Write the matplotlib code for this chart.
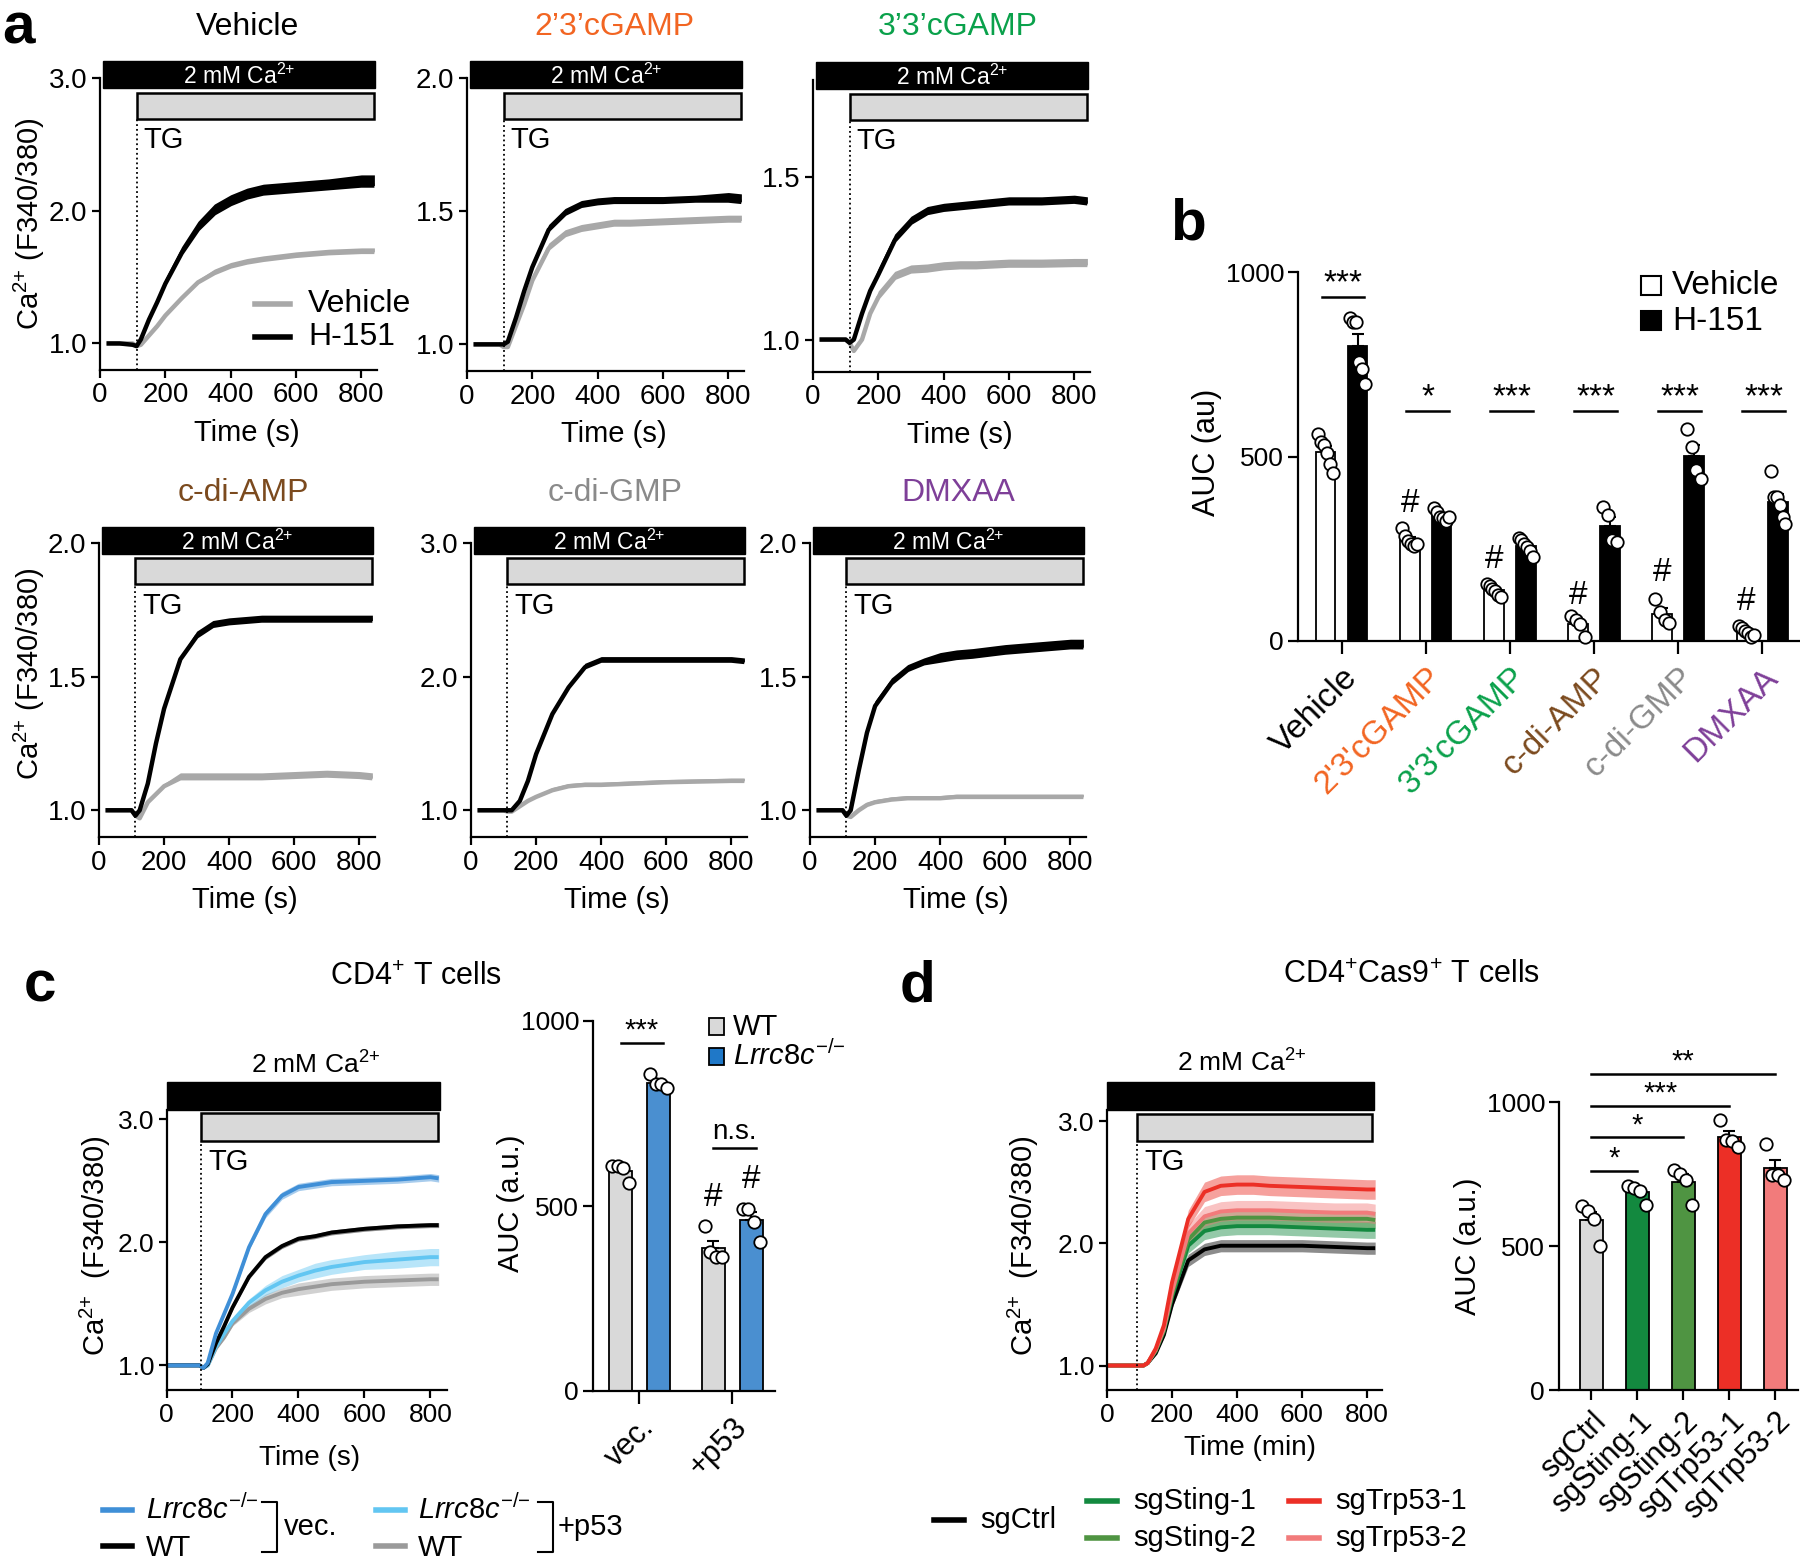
import numpy as np
import matplotlib.pyplot as plt
import matplotlib.transforms as mtransforms
from matplotlib.patches import Rectangle

plt.rcParams['font.family'] = ['Liberation Sans', 'DejaVu Sans']
plt.rcParams['mathtext.fontset'] = 'custom'
plt.rcParams['mathtext.rm'] = 'Liberation Sans'
plt.rcParams['mathtext.it'] = 'Liberation Sans:italic'
plt.rcParams['mathtext.bf'] = 'Liberation Sans:bold'
plt.rcParams['axes.linewidth'] = 1.6

# ---------------- data ----------------
# panel a: Ca2+ traces (F340/380)
t_a = [20, 60, 100, 112, 125, 150, 175, 200, 250, 300, 350, 400, 450, 500, 600, 700, 800, 840]

veh_veh = [1.0, 1.0, 1.0, 0.98, 0.99, 1.06, 1.13, 1.21, 1.34, 1.46, 1.53, 1.58, 1.61, 1.63, 1.66, 1.68, 1.69, 1.69]
veh_veh_se = [0, 0, 0, 0, .01, .01, .01, .02, .02, .02, .03, .03, .03, .03, .03, .03, .03, .03]
veh_h151 = [1.0, 1.0, 0.99, 0.98, 1.03, 1.18, 1.31, 1.45, 1.68, 1.86, 1.98, 2.05, 2.1, 2.13, 2.15, 2.17, 2.19, 2.19]
veh_h151_se = [0, 0, 0, 0, .01, .02, .03, .04, .05, .06, .07, .07, .07, .07, .07, .07, .08, .08]

g23_veh = [1.0, 1.0, 1.0, 0.99, 0.99, 1.07, 1.15, 1.24, 1.36, 1.41, 1.43, 1.44, 1.45, 1.45, 1.455, 1.46, 1.465, 1.465]
g23_veh_se = [0, 0, 0, 0, 0, .01, .01, .02, .02, .02, .02, .02, .02, .02, .02, .02, .02, .02]
g23_h151 = [1.0, 1.0, 1.0, 1.0, 1.01, 1.1, 1.2, 1.29, 1.43, 1.49, 1.52, 1.53, 1.535, 1.535, 1.535, 1.54, 1.54, 1.535]
g23_h151_se = [0, 0, 0, 0, 0, .01, .01, .02, .02, .02, .02, .02, .02, .02, .02, .02, .03, .03]

g33_veh = [1.0, 1.0, 1.0, 0.99, 0.965, 1.0, 1.08, 1.13, 1.19, 1.21, 1.213, 1.22, 1.223, 1.223, 1.228, 1.228, 1.23, 1.23]
g33_veh_se = [0, 0, 0, 0, 0, .01, .01, .02, .02, .02, .02, .02, .02, .02, .02, .02, .02, .02]
g33_h151 = [1.0, 1.0, 1.0, 0.99, 1.0, 1.08, 1.15, 1.2, 1.305, 1.36, 1.39, 1.4, 1.405, 1.41, 1.42, 1.42, 1.425, 1.42]
g33_h151_se = [0, 0, 0, 0, 0, .01, .01, .02, .02, .02, .02, .02, .02, .02, .02, .02, .02, .02]

cda_veh = [1.0, 1.0, 1.0, 0.98, 0.97, 1.03, 1.06, 1.09, 1.12, 1.12, 1.12, 1.12, 1.12, 1.12, 1.125, 1.13, 1.125, 1.12]
cda_veh_se = [0, 0, 0, 0, 0, .01, .01, .01, .02, .02, .02, .02, .02, .02, .02, .02, .02, .02]
cda_h151 = [1.0, 1.0, 1.0, 0.98, 1.0, 1.1, 1.25, 1.38, 1.565, 1.65, 1.69, 1.7, 1.705, 1.71, 1.71, 1.71, 1.71, 1.71]
cda_h151_se = [0, 0, 0, 0, 0, .01, .01, .01, .01, .02, .02, .02, .02, .02, .02, .02, .02, .02]

cdg_veh = [1.0, 1.0, 1.0, 0.99, 0.99, 1.03, 1.07, 1.1, 1.15, 1.18, 1.19, 1.19, 1.195, 1.2, 1.21, 1.215, 1.22, 1.22]
cdg_veh_se = [0, 0, 0, 0, 0, .01, .01, .01, .02, .02, .02, .02, .02, .02, .02, .02, .02, .02]
cdg_h151 = [1.0, 1.0, 1.0, 1.0, 1.0, 1.07, 1.22, 1.42, 1.72, 1.92, 2.07, 2.12, 2.12, 2.12, 2.12, 2.12, 2.12, 2.11]
cdg_h151_se = [0, 0, 0, 0, 0, .01, .01, .02, .02, .02, .03, .03, .03, .03, .03, .03, .03, .03]

dmx_veh = [1.0, 1.0, 1.0, 0.98, 0.975, 1.0, 1.02, 1.03, 1.04, 1.045, 1.045, 1.045, 1.05, 1.05, 1.05, 1.05, 1.05, 1.05]
dmx_veh_se = [0, 0, 0, 0, 0, 0, .01, .01, .01, .01, .01, .01, .01, .01, .01, .01, .01, .01]
dmx_h151 = [1.0, 1.0, 1.0, 0.98, 1.0, 1.15, 1.29, 1.39, 1.475, 1.525, 1.55, 1.56, 1.57, 1.575, 1.59, 1.6, 1.61, 1.61]
dmx_h151_se = [0, 0, 0, 0, 0, .01, .01, .02, .02, .02, .02, .03, .03, .03, .03, .03, .03, .03]

# panel b: AUC dots
b_groups = ['Vehicle', "2'3'cGAMP", "3'3'cGAMP", 'c-di-AMP', 'c-di-GMP', 'DMXAA']
b_colors = ['black', '#f26522', '#0aa14b', '#7b4a1e', '#8a8a8a', '#7e3f98']
b_veh = [[560, 540, 530, 510, 480, 455], [305, 285, 270, 262, 258, 262],
         [155, 150, 140, 135, 124, 119], [67, 57, 47, 10],
         [114, 78, 57, 49], [41, 36, 28, 21, 10, 16]]
b_h151 = [[874, 865, 865, 756, 736, 697], [360, 349, 337, 332, 326, 337],
          [280, 275, 264, 254, 244, 228], [363, 342, 275, 269],
          [575, 526, 464, 440], [461, 391, 389, 368, 337, 318]]
b_sig = ['***', '*', '***', '***', '***', '***']
b_hash = [None, 350, 198, 100, 163, 84]

# panel c: traces and AUC
t_cd = [0, 50, 100, 112, 125, 150, 175, 200, 250, 300, 350, 400, 450, 500, 600, 700, 800, 825]
c_vec_ko = [1.0, 1.0, 1.0, 0.98, 1.02, 1.26, 1.42, 1.58, 1.96, 2.23, 2.38, 2.45, 2.47, 2.49, 2.5, 2.51, 2.53, 2.52]
c_vec_ko_se = [0, 0, 0, 0, 0, .01, .01, .02, .02, .03, .03, .03, .03, .03, .03, .03, .03, .03]
c_vec_wt = [1.0, 1.0, 1.0, 0.98, 1.01, 1.18, 1.32, 1.47, 1.72, 1.88, 1.97, 2.03, 2.05, 2.08, 2.11, 2.13, 2.14, 2.14]
c_vec_wt_se = [0, 0, 0, 0, 0, .01, .01, .02, .02, .02, .02, .02, .02, .02, .02, .02, .02, .02]
c_p53_ko = [1.0, 1.0, 1.0, 0.98, 1.0, 1.15, 1.26, 1.36, 1.51, 1.61, 1.68, 1.73, 1.77, 1.8, 1.84, 1.86, 1.88, 1.88]
c_p53_ko_se = [0, 0, 0, 0, 0, .01, .02, .02, .03, .04, .05, .05, .06, .06, .06, .07, .07, .07]
c_p53_wt = [1.0, 1.0, 1.0, 0.98, 1.0, 1.14, 1.23, 1.34, 1.46, 1.54, 1.59, 1.62, 1.64, 1.66, 1.68, 1.69, 1.7, 1.7]
c_p53_wt_se = [0, 0, 0, 0, 0, .01, .02, .02, .03, .04, .04, .05, .05, .05, .05, .05, .05, .05]
c_groups = ['vec.', '+p53']
c_wt_pts = [[608, 608, 603, 561], [445, 377, 361, 361]]
c_ko_pts = [[858, 829, 829, 819], [493, 493, 456, 403]]

# panel d: traces and AUC
d_labels = ['sgCtrl', 'sgSting-1', 'sgSting-2', 'sgTrp53-1', 'sgTrp53-2']
d_colors = ['black', '#13893f', '#4f9442', '#ec2f26', '#f27b7b']
d_bar_colors = ['#d9d9d9', '#13893f', '#4f9442', '#ec2f26', '#f27b7b']
d_ctrl = [1.0, 1.0, 1.0, 1.0, 1.02, 1.1, 1.25, 1.5, 1.86, 1.95, 1.98, 1.98, 1.98, 1.98, 1.98, 1.97, 1.96, 1.96]
d_sting1 = [1.0, 1.0, 1.0, 1.0, 1.02, 1.12, 1.28, 1.56, 1.98, 2.1, 2.13, 2.14, 2.14, 2.14, 2.13, 2.12, 2.11, 2.11]
d_sting2 = [1.0, 1.0, 1.0, 1.0, 1.02, 1.12, 1.29, 1.58, 2.03, 2.17, 2.2, 2.21, 2.21, 2.21, 2.2, 2.2, 2.2, 2.19]
d_trp1 = [1.0, 1.0, 1.0, 1.0, 1.02, 1.14, 1.33, 1.68, 2.2, 2.42, 2.47, 2.48, 2.48, 2.47, 2.46, 2.45, 2.44, 2.44]
d_trp2 = [1.0, 1.0, 1.0, 1.0, 1.02, 1.13, 1.3, 1.6, 2.08, 2.22, 2.26, 2.27, 2.27, 2.27, 2.26, 2.25, 2.25, 2.24]
d_ctrl_se = [0, 0, 0, 0, 0, .01, .02, .03, .05, .05, .05, .05, .05, .05, .05, .05, .05, .05]
d_sting_se = [0, 0, 0, 0, 0, .01, .02, .03, .06, .07, .07, .07, .07, .07, .07, .07, .07, .07]
d_trp_se = [0, 0, 0, 0, 0, .01, .02, .04, .07, .08, .08, .08, .08, .08, .08, .08, .08, .08]
d_pts = [[638, 622, 595, 500], [709, 703, 692, 642], [764, 750, 730, 642],
         [936, 868, 865, 845], [855, 747, 747, 730]]
d_sig = [(1, '*', 761), (2, '*', 878), (3, '***', 986), (4, '**', 1097)]

GRAY = '#a8a8a8'
CA = 'Ca$^{2{+}}$'
KO = r'$\mathit{Lrrc8c}^{{-}/{-}}$'

# ---------------- figure ----------------
W, H = 1800, 1560
fig = plt.figure(figsize=(W / 100, H / 100), dpi=100)
ov = fig.add_axes([0, 0, 1, 1])
ov.set_xlim(0, W)
ov.set_ylim(H, 0)
ov.axis('off')


def add_ax(l, r, b, t):
    ax = fig.add_axes([l / W, 1 - b / H, (r - l) / W, (b - t) / H])
    ax.spines['top'].set_visible(False)
    ax.spines['right'].set_visible(False)
    ax.patch.set_alpha(0)
    return ax


def txt(x, y, s, **kw):
    kw.setdefault('ha', 'center')
    kw.setdefault('va', 'center')
    ov.text(x, y, s, **kw)


def trace_panel(rect, xmax, ylim, yticks, t, series, bar_px, bar_x, t_on, tg_y,
                fs=20, lw=3.2, ca_inside=True):
    l, r, b, top = rect
    ax = add_ax(l, r, b, top)
    for y, se, col, band in series:
        y = np.array(y)
        se = np.array(se)
        if band == 'up':
            ax.fill_between(t, y, y + se, color=col, lw=0)
        else:
            ax.fill_between(t, y - se, y + se, color=col, alpha=0.45, lw=0)
        ax.plot(t, y, color=col, lw=lw, solid_capstyle='butt')
    ax.set_xlim(0, xmax)
    ax.set_ylim(*ylim)
    ax.set_xticks([0, 200, 400, 600, 800])
    ax.set_yticks(yticks)
    ax.yaxis.set_major_formatter('{x:.1f}')
    ax.tick_params(labelsize=fs, length=6, width=1.6, pad=3)
    tr = mtransforms.blended_transform_factory(ax.transData, ax.transAxes)

    def fy(yp):
        return (b - yp) / (b - top)
    bt, bb, gt, gb = bar_px
    x0, x1, x2 = bar_x
    ax.add_patch(Rectangle((x0, fy(bb)), x1 - x0, fy(bt) - fy(bb), transform=tr,
                           fc='black', ec='black', lw=1, clip_on=False))
    ax.add_patch(Rectangle((t_on, fy(gb)), x2 - t_on, fy(gt) - fy(gb), transform=tr,
                           fc='#d9d9d9', ec='black', lw=1.8, clip_on=False))
    ax.plot([t_on, t_on], [0, fy(gb)], transform=tr, color='black', ls=':', lw=1.3,
            clip_on=False)
    ax.text(t_on + 22, fy(tg_y), 'TG', transform=tr, fontsize=21, ha='left', va='center')
    if ca_inside:
        ax.text((x0 + x1) / 2, fy((bt + bb) / 2) - 0.005, '2 mM ' + CA, transform=tr,
                color='white', fontsize=16.5, ha='center', va='center')
    return ax


def dots(ax, x, pts, width, s=80):
    pts = np.array(pts, dtype=float)
    jit = np.linspace(-0.38, 0.38, len(pts)) * width
    ax.scatter(x + jit, pts, s=s, facecolor='white', edgecolor='black', lw=1.3,
               zorder=5, clip_on=False)


def bar_with_sem(ax, x, pts, width, color, cap=4.5):
    pts = np.array(pts, dtype=float)
    m = pts.mean()
    se = pts.std(ddof=1) / np.sqrt(len(pts))
    ax.bar(x, m, width, color=color, edgecolor='black', lw=1.3, zorder=2)
    ax.errorbar(x, m, yerr=[[0], [se]], color='black', capsize=cap, lw=1.5,
                capthick=1.5, zorder=3)
    dots(ax, x, pts, width)


# ---- panel a ----
ROW1_BARS = (61, 88, 93, 119)
ROW2_BARS = (527, 554, 558, 584)
a_panels = [
    ((100, 377, 370, 78), (0.8, 3.0), [1.0, 2.0, 3.0], veh_veh, veh_veh_se, veh_h151, veh_h151_se,
     ROW1_BARS, 140, 'Vehicle', 'black', (247, 27)),
    ((467, 744, 371, 78), (0.9, 2.0), [1.0, 1.5, 2.0], g23_veh, g23_veh_se, g23_h151, g23_h151_se,
     ROW1_BARS, 140, "2’3’cGAMP", '#f26522', (614, 27)),
    ((813, 1090, 372, 80), (0.9, 1.8), [1.0, 1.5], g33_veh, g33_veh_se, g33_h151, g33_h151_se,
     (62, 89, 94, 120), 141, "3’3’cGAMP", '#0aa14b', (958, 27)),
    ((99, 375, 837, 543), (0.9, 2.0), [1.0, 1.5, 2.0], cda_veh, cda_veh_se, cda_h151, cda_h151_se,
     ROW2_BARS, 606, 'c-di-AMP', '#7b4a1e', (243, 493)),
    ((471, 747, 837, 543), (0.8, 3.0), [1.0, 2.0, 3.0], cdg_veh, cdg_veh_se, cdg_h151, cdg_h151_se,
     ROW2_BARS, 606, 'c-di-GMP', '#8a8a8a', (615, 493)),
    ((810, 1086, 837, 543), (0.9, 2.0), [1.0, 1.5, 2.0], dmx_veh, dmx_veh_se, dmx_h151, dmx_h151_se,
     ROW2_BARS, 606, 'DMXAA', '#7e3f98', (958, 493)),
]
for rect, ylim, yt, yv, yvse, yh, yhse, bars, tgy, title, tcol, tpos in a_panels:
    ax = trace_panel(rect, 848, ylim, yt, t_a,
                     [(yv, yvse, GRAY, 'up'), (yh, yhse, 'black', 'up')],
                     bars, (8, 843, 838), 112, tgy)
    txt(tpos[0], tpos[1], title, color=tcol, fontsize=23)
    txt((rect[0] + rect[1]) / 2 + 8, rect[2] + 63, 'Time (s)', fontsize=21)

for yc in (224, 674):
    txt(29, yc, CA + ' (F340/380)', rotation=90, fontsize=21)

# legend of vehicle panel
ov.plot([255, 290], [304, 304], color=GRAY, lw=4)
ov.plot([255, 290], [337, 337], color='black', lw=4)
txt(308, 304, 'Vehicle', ha='left', fontsize=23)
txt(308, 337, 'H-151', ha='left', fontsize=23)

# ---- panel b ----
axb = add_ax(1298, 1800, 641, 272)
bw = 0.23
xb = np.arange(len(b_groups))
for i in range(len(b_groups)):
    bar_with_sem(axb, xb[i] - 0.19, b_veh[i], bw, 'white')
    bar_with_sem(axb, xb[i] + 0.19, b_h151[i], bw, 'black')
    ly = 932 if i == 0 else 623
    axb.plot([xb[i] - 0.24, xb[i] + 0.27], [ly, ly], color='black', lw=1.8, clip_on=False)
    axb.text(xb[i] + 0.02, ly + 12, b_sig[i], ha='center', va='baseline', fontsize=24)
    if b_hash[i] is not None:
        axb.text(xb[i] - 0.19, b_hash[i], '#', ha='center', va='baseline', fontsize=24)
axb.set_xlim(-0.52, 5.45)
axb.set_ylim(0, 1000)
axb.set_yticks([0, 500, 1000])
axb.set_xticks(xb)
axb.set_xticklabels(b_groups, rotation=45, ha='right', va='top', rotation_mode='anchor')
for lab, c in zip(axb.get_xticklabels(), b_colors):
    lab.set_color(c)
axb.tick_params(axis='y', labelsize=19, length=7, width=1.6, pad=3)
axb.tick_params(axis='x', labelsize=24, length=9, width=1.6, pad=6)
txt(1207, 452, 'AUC (au)', rotation=90, fontsize=22)
ov.add_patch(Rectangle((1641, 276), 20, 19, fc='white', ec='black', lw=1.5))
ov.add_patch(Rectangle((1641, 311), 20, 19, fc='black', ec='black', lw=1.5))
txt(1672, 286, 'Vehicle', ha='left', fontsize=24)
txt(1672, 321, 'H-151', ha='left', fontsize=24)

# ---- panel c ----
BLUE = '#3f8fd7'
LBLUE = '#62c6f2'
CGRAY = '#9a9a9a'
axc = trace_panel((166.5, 446.6, 1390, 1109.5), 849, (0.8, 3.08), [1.0, 2.0, 3.0], t_cd,
                  [(c_p53_wt, c_p53_wt_se, CGRAY, 'both'),
                   (c_p53_ko, c_p53_ko_se, LBLUE, 'both'),
                   (c_vec_wt, c_vec_wt_se, 'black', 'both'),
                   (c_vec_ko, c_vec_ko_se, BLUE, 'both')],
                  (1081.5, 1109.5, 1113, 1141), (0, 830, 824), 105, 1162,
                  fs=19, lw=2.8, ca_inside=False)
txt(316, 1065, '2 mM ' + CA, fontsize=19)
txt(310, 1458, 'Time (s)', fontsize=20)
txt(95, 1246, CA + '  (F340/380)', rotation=90, fontsize=21)

axc2 = add_ax(593, 775, 1391, 1021)
cw = 0.245
xc = np.arange(len(c_groups))
for i in range(len(c_groups)):
    bar_with_sem(axc2, xc[i] - 0.205, c_wt_pts[i], cw, '#d9d9d9')
    bar_with_sem(axc2, xc[i] + 0.205, c_ko_pts[i], cw, '#4a8fd0')
axc2.plot([-0.2, 0.25], [940, 940], color='black', lw=1.8)
axc2.text(0.02, 953, '***', ha='center', va='baseline', fontsize=21)
axc2.plot([0.79, 1.25], [656, 656], color='black', lw=1.8)
axc2.text(1.02, 680, 'n.s.', ha='center', va='baseline', fontsize=20)
axc2.text(1 - 0.205, 500, '#', ha='center', va='baseline', fontsize=24)
axc2.text(1 + 0.205, 548, '#', ha='center', va='baseline', fontsize=24)
axc2.set_xlim(-0.5, 1.46)
axc2.set_ylim(0, 1000)
axc2.set_yticks([0, 500, 1000])
axc2.set_xticks(xc)
axc2.set_xticklabels(c_groups, rotation=45, ha='right', va='top', rotation_mode='anchor')
axc2.tick_params(axis='y', labelsize=19, length=7, width=1.6, pad=3)
axc2.tick_params(axis='x', labelsize=22, length=9, width=1.6, pad=6)
txt(511, 1203, 'AUC (a.u.)', rotation=90, fontsize=21)
ov.add_patch(Rectangle((709, 1018), 15, 17, fc='#d9d9d9', ec='black', lw=1.3))
ov.add_patch(Rectangle((709, 1048), 15, 17, fc='#1f78c8', ec='black', lw=1.3))
txt(733, 1027, 'WT', ha='left', fontsize=21)
txt(733, 1056, KO, ha='left', fontsize=21)

# bottom legend of c
ov.plot([103, 132], [1510, 1510], color=BLUE, lw=4)
ov.plot([103, 132], [1546, 1546], color='black', lw=4)
txt(146, 1510, KO, ha='left', fontsize=21)
txt(146, 1548, 'WT', ha='left', fontsize=21)
ov.plot([262, 277, 277, 262], [1502, 1502, 1552, 1552], color='black', lw=1.5)
txt(284, 1527, 'vec.', ha='left', fontsize=21)
ov.plot([376, 405], [1510, 1510], color=LBLUE, lw=4)
ov.plot([376, 405], [1546, 1546], color=CGRAY, lw=4)
txt(418, 1510, KO, ha='left', fontsize=21)
txt(418, 1548, 'WT', ha='left', fontsize=21)
ov.plot([538, 553, 553, 538], [1502, 1502, 1552, 1552], color='black', lw=1.5)
txt(558, 1527, '+p53', ha='left', fontsize=21)
txt(416, 977, 'CD4$^{+}$ T cells', fontsize=22)

# ---- panel d ----
d_traces = [d_ctrl, d_sting1, d_sting2, d_trp1, d_trp2]
d_ses = [d_ctrl_se, d_sting_se, d_sting_se, d_trp_se, d_trp_se]
axd = trace_panel((1107, 1382, 1390, 1110), 846, (0.8, 3.09), [1.0, 2.0, 3.0], t_cd,
                  [(d_traces[k], d_ses[k], d_colors[k], 'both') for k in [0, 1, 2, 4, 3]],
                  (1082, 1110, 1114, 1141), (0, 821, 815), 92, 1162,
                  fs=19, lw=2.8, ca_inside=False)
txt(1242, 1063, '2 mM ' + CA, fontsize=19)
txt(1250, 1448, 'Time (min)', fontsize=20)
txt(1023, 1246, CA + '  (F340/380)', rotation=90, fontsize=21)

axd2 = add_ax(1559, 1798, 1390, 1102)
dw = 0.5
xd = np.arange(len(d_labels))
for i in range(len(d_labels)):
    bar_with_sem(axd2, xd[i], d_pts[i], dw, d_bar_colors[i], cap=4)
for j, s, v in d_sig:
    axd2.plot([0, j], [v, v], color='black', lw=1.8, clip_on=False)
    axd2.text(j / 2, v + 14, s, ha='center', va='baseline', fontsize=21, clip_on=False)
axd2.set_xlim(-0.7, 4.5)
axd2.set_ylim(0, 1000)
axd2.set_yticks([0, 500, 1000])
axd2.set_xticks(xd)
axd2.set_xticklabels(d_labels, rotation=45, ha='right', va='top', rotation_mode='anchor')
axd2.tick_params(axis='y', labelsize=19, length=7, width=1.6, pad=3)
axd2.tick_params(axis='x', labelsize=22, length=7, width=1.6, pad=5)
txt(1468, 1246, 'AUC (a.u.)', rotation=90, fontsize=21)
txt(1411, 975, 'CD4$^{+}$Cas9$^{+}$ T cells', fontsize=22)

# bottom legend of d
leg_d = [(0, 934, 1520), (1, 1087, 1501), (2, 1087, 1538), (3, 1289, 1501), (4, 1289, 1538)]
for k, x, y in leg_d:
    ov.plot([x, x + 30], [y, y], color=d_colors[k], lw=4)
    txt(x + 46, y, d_labels[k], ha='left', fontsize=21)

# panel letters
for s, x, y in [('a', 18, 43), ('b', 1188, 239), ('c', 40, 1002), ('d', 918, 1002)]:
    txt(x, y, s, fontsize=42, fontweight='bold', va='baseline')

fig.savefig('out.png', dpi=100)
